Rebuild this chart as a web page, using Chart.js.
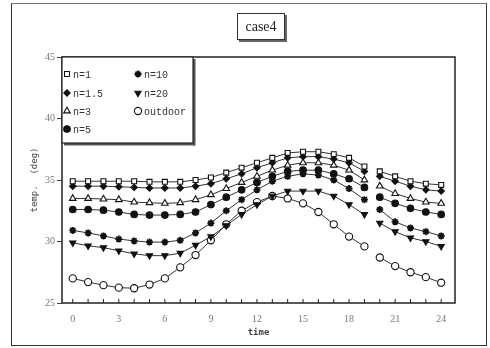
<!DOCTYPE html>
<html>
<head>
<meta charset="utf-8">
<script src="https://cdn.jsdelivr.net/npm/chart.js@4/dist/chart.umd.min.js"></script>
<style>
  html, body { margin: 0; padding: 0; background: #fff; }
  #wrap { position: relative; width: 490px; height: 348px; }
  #frame { position: absolute; left: 11px; top: 3px; width: 474px; height: 341px;
           border: 1.5px solid #333; border-top-color: #777; pointer-events: none; }
  #title { position: absolute; left: 237px; top: 13px; width: 46px; height: 25px;
           border: 1px solid #333; box-shadow: 2px 2px 0 #666;
           font: 14px "Liberation Serif", serif; color: #222;
           text-align: center; line-height: 25px; }
</style>
</head>
<body>
<div id="wrap">
  <canvas id="chart" width="490" height="348"></canvas>
  <div id="frame"></div>
  <div id="title">case4</div>
</div>
<script>
// hours of the day
const hours = [0,1,2,3,4,5,6,7,8,9,10,11,12,13,14,15,16,17,18,19,20,21,22,23,24];
const xTickLabels = [0,3,6,9,12,15,18,21,24];
const yTicks = [25,30,35,40,45];

// temperatures (deg)
const n1      = [34.9,34.9,34.9,34.9,34.9,34.85,34.85,34.85,35.0,35.2,35.6,36.0,36.4,36.8,37.2,37.3,37.3,37.1,36.8,36.1,35.7,35.3,34.9,34.7,34.6];
const n1_5    = [34.5,34.5,34.5,34.45,34.4,34.35,34.35,34.35,34.5,34.7,35.1,35.5,36.0,36.4,36.8,36.9,36.9,36.7,36.4,35.7,35.3,34.9,34.5,34.2,34.1];
const n3      = [33.5,33.5,33.45,33.4,33.2,33.15,33.1,33.15,33.4,33.8,34.3,34.8,35.3,35.8,36.2,36.4,36.4,36.2,35.8,35.0,34.5,33.9,33.5,33.2,33.1];
const n5      = [32.6,32.6,32.55,32.4,32.2,32.15,32.15,32.2,32.4,33.0,33.6,34.2,34.8,35.3,35.7,35.8,35.8,35.5,35.1,34.4,33.6,33.1,32.7,32.4,32.2];
const n10     = [30.9,30.7,30.45,30.2,30.05,29.95,29.95,30.1,30.7,31.5,32.5,33.4,34.2,34.9,35.3,35.5,35.4,35.0,34.3,33.4,32.6,31.6,31.1,30.8,30.45];
const n20     = [29.9,29.65,29.5,29.25,29.0,28.85,28.85,29.05,29.7,30.4,31.3,32.2,33.0,33.7,34.1,34.1,34.1,33.7,33.0,32.2,31.5,30.8,30.3,30.0,29.6];
const outdoor = [27.0,26.7,26.45,26.25,26.2,26.5,27.0,27.9,28.9,30.1,31.4,32.5,33.2,33.7,33.5,33.1,32.4,31.4,30.4,29.6,28.7,28.0,27.5,27.1,26.65];

const seriesNames = ['n=1','n=1.5','n=3','n=5','n=10','n=20','outdoor'];
const seriesData = [n1, n1_5, n3, n5, n10, n20, outdoor];
const markers = [
  { style: 'rect', fill: '#fff', r: 3.5, rot: 0 },
  { style: 'rectRot', fill: '#111', r: 3.2, rot: 0 },
  { style: 'triangle', fill: '#fff', r: 3.8, rot: 0 },
  { style: 'circle', fill: '#111', r: 3.3, rot: 0 },
  { style: 'star', fill: '#111', r: 3.5, rot: 0 },
  { style: 'triangle', fill: '#111', r: 3.6, rot: 180 },
  { style: 'circle', fill: '#fff', r: 3.6, rot: 0 }
];

// the scan has a splice between hour 19 and 20
const gapAfter = 19;

const datasets = seriesNames.map((name, i) => ({
  label: name,
  data: hours.map((h, j) => ({ x: h, y: seriesData[i][j] })),
  borderColor: '#333',
  borderWidth: 1,
  pointStyle: markers[i].style,
  pointRotation: markers[i].rot,
  pointRadius: markers[i].r,
  pointBackgroundColor: markers[i].fill,
  pointBorderColor: '#111',
  pointBorderWidth: markers[i].style === 'star' ? 1.8 : 1.1,
  segment: {
    borderColor: ctx => ctx.p0DataIndex === gapAfter ? 'rgba(0,0,0,0)' : undefined
  },
  tension: 0
}));

// box round the plot, inside ticks on time axis, two column legend
const decorPlugin = {
  id: 'decor',
  afterDatasetsDraw(chart) {
    const ctx = chart.ctx;
    const a = chart.chartArea;
    const xs = chart.scales.x;
    ctx.save();
    ctx.strokeStyle = '#222';
    ctx.lineWidth = 1.5;
    ctx.strokeRect(a.left, a.top, a.right - a.left, a.bottom - a.top);
    ctx.lineWidth = 1;
    hours.forEach(h => {
      const px = xs.getPixelForValue(h);
      ctx.beginPath();
      ctx.moveTo(px, a.bottom);
      ctx.lineTo(px, a.bottom - 4);
      ctx.stroke();
    });

    // legend box
    const bx = a.left, by = a.top, bw = 131, bh = 86;
    ctx.fillStyle = '#fff';
    ctx.fillRect(bx, by, bw, bh);
    ctx.fillStyle = '#555';
    ctx.fillRect(bx + 2, by + bh, bw, 2.5);
    ctx.fillRect(bx + bw, by + 2, 2.5, bh + 0.5);
    ctx.strokeStyle = '#222';
    ctx.lineWidth = 1.2;
    ctx.strokeRect(bx, by, bw, bh);

    const rows = [17, 36, 54, 72];
    ctx.font = '10px "Liberation Mono", monospace';
    ctx.textBaseline = 'middle';
    ctx.textAlign = 'left';
    seriesNames.forEach((name, i) => {
      const col = i < 4 ? 0 : 1;
      const row = i < 4 ? i : i - 4;
      const mx = bx + (col ? 76 : 5);
      const my = by + rows[row];
      const m = markers[i];
      if (Chart.helpers && Chart.helpers.drawPoint) {
        ctx.fillStyle = m.fill;
        ctx.strokeStyle = '#111';
        ctx.lineWidth = m.style === 'star' ? 1.8 : 1.1;
        Chart.helpers.drawPoint(ctx, { pointStyle: m.style, radius: m.r, rotation: m.rot, borderWidth: ctx.lineWidth }, mx, my);
      }
      ctx.fillStyle = '#333';
      ctx.fillText(name, mx + 6, my + 1);
    });
    ctx.restore();
  }
};

new Chart(document.getElementById('chart'), {
  type: 'line',
  data: { datasets: datasets },
  options: {
    responsive: false,
    animation: false,
    layout: { padding: { top: 57, right: 35, bottom: 0, left: 0 } },
    plugins: {
      legend: { display: false },
      tooltip: { enabled: false }
    },
    scales: {
      x: {
        type: 'linear',
        min: -0.7,
        max: 24.9,
        afterBuildTicks: scale => { scale.ticks = xTickLabels.map(v => ({ value: v })); },
        afterFit: scale => { scale.height = 45; },
        grid: { display: false, drawTicks: false },
        border: { display: false },
        ticks: {
          padding: 10,
          color: '#777',
          font: { family: 'Liberation Serif', size: 10 },
          maxRotation: 0,
          autoSkip: false
        },
        title: {
          display: true,
          text: 'time',
          color: '#444',
          padding: { top: 0, bottom: 10 },
          font: { family: 'DejaVu Sans Mono', size: 9, weight: 'bold' }
        }
      },
      y: {
        min: 25,
        max: 45,
        afterBuildTicks: scale => { scale.ticks = yTicks.map(v => ({ value: v })); },
        afterFit: scale => { scale.width = 62; },
        grid: { drawOnChartArea: false, drawTicks: true, tickLength: 5, color: '#444' },
        border: { display: false },
        ticks: {
          padding: 2,
          color: '#777',
          font: { family: 'Liberation Serif', size: 10 }
        },
        title: {
          display: true,
          text: 'temp.  (deg)',
          color: '#444',
          padding: { top: 29, bottom: 0 },
          font: { family: 'DejaVu Sans Mono', size: 9 }
        }
      }
    }
  },
  plugins: [decorPlugin]
});
</script>
</body>
</html>
